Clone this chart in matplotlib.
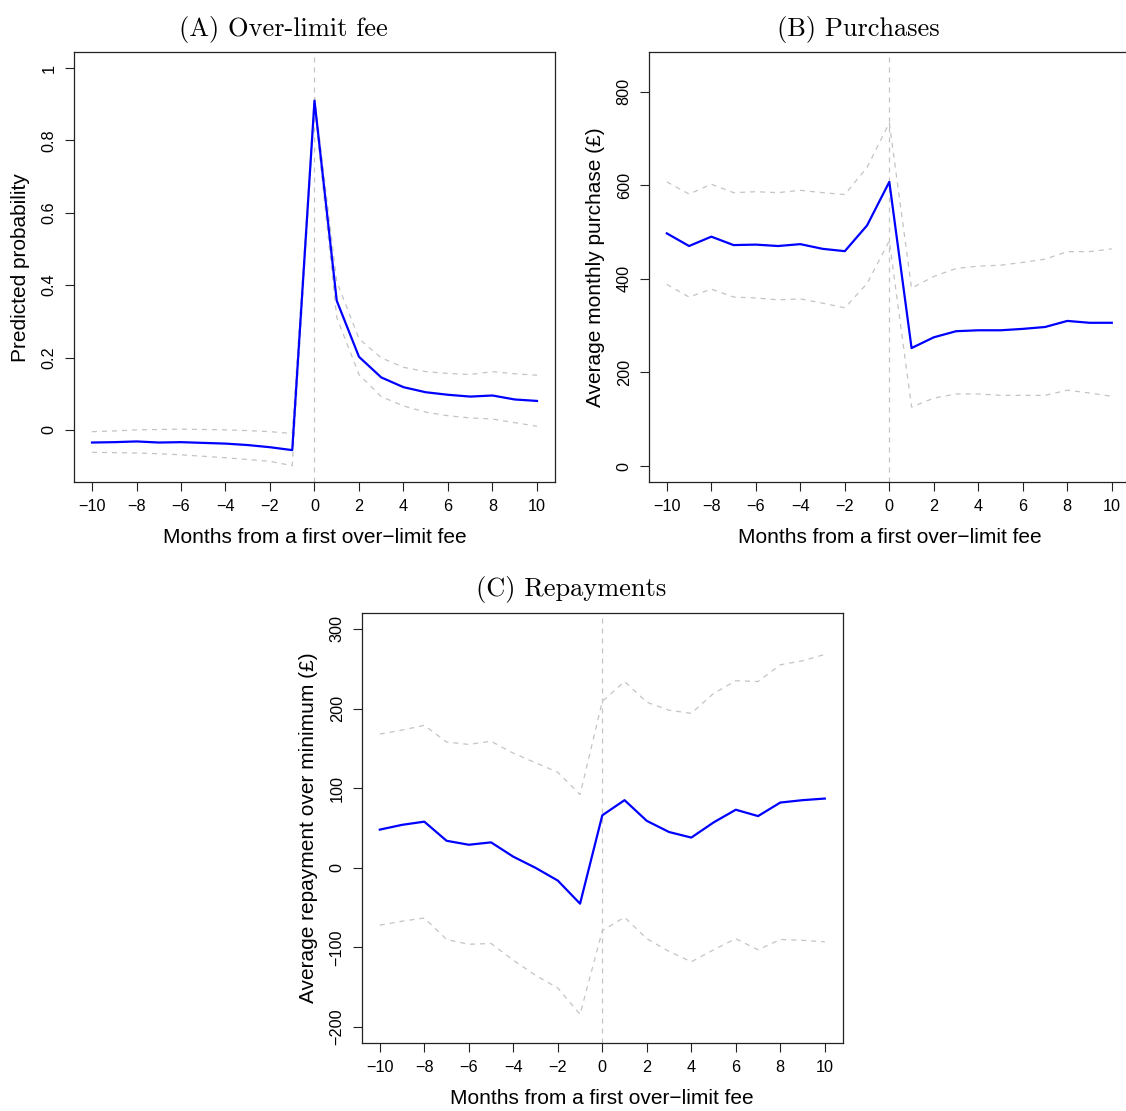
import matplotlib
matplotlib.use("Agg")
import matplotlib.pyplot as plt

plt.rcParams['font.family'] = ['Liberation Sans', 'DejaVu Sans']

months = list(range(-10, 11))

# (A) over-limit fee: predicted probability with bounds
fee_est = [-0.035, -0.034, -0.032, -0.035, -0.034, -0.036, -0.038, -0.042, -0.048, -0.056,
           0.910, 0.357, 0.202, 0.145, 0.118, 0.104, 0.097, 0.092, 0.095, 0.084, 0.080]
fee_hi = [-0.005, -0.003, 0.000, 0.001, 0.002, 0.001, 0.000, -0.002, -0.005, -0.010,
          0.923, 0.410, 0.252, 0.199, 0.173, 0.161, 0.156, 0.153, 0.161, 0.155, 0.151]
fee_lo = [-0.062, -0.063, -0.064, -0.066, -0.069, -0.073, -0.077, -0.082, -0.087, -0.099,
          0.893, 0.311, 0.153, 0.092, 0.066, 0.049, 0.039, 0.033, 0.030, 0.020, 0.010]

# (B) purchases
pur_est = [497, 470, 490, 472, 473, 470, 474, 464, 459, 514,
           607, 252, 275, 288, 290, 290, 293, 297, 310, 306, 306]
pur_hi = [607, 581, 602, 584, 586, 584, 589, 584, 580, 638,
          733, 380, 405, 422, 427, 429, 435, 442, 458, 458, 464]
pur_lo = [388, 361, 378, 361, 359, 355, 357, 348, 338, 390,
          481, 126, 145, 154, 154, 151, 151, 151, 162, 156, 149]

# (C) repayments
rep_est = [48, 54, 58, 34, 29, 32, 14, 0, -16, -45,
           66, 85, 59, 45, 38, 57, 73, 65, 82, 85, 87]
rep_hi = [168, 173, 179, 158, 155, 159, 144, 132, 120, 92,
          209, 234, 208, 198, 194, 219, 235, 234, 255, 260, 268]
rep_lo = [-72, -67, -63, -90, -96, -95, -116, -135, -151, -184,
          -79, -62, -89, -105, -118, -103, -89, -103, -90, -91, -93]

xticks = [-10, -8, -6, -4, -2, 0, 2, 4, 6, 8, 10]
xlab = "Months from a first over\u2212limit fee"

fig = plt.figure(figsize=(11.26, 11.11), dpi=100)


def fmt(v):
    return str(v).replace('-', '\u2212')


def r_panel(rect, est, hi, lo, ylim, yticks, ylabel, title):
    ax = fig.add_axes(rect)
    dash = (0, (4, 4))
    ax.plot(months, hi, color='#C4C4C4', lw=0.9, linestyle=dash)
    ax.plot(months, lo, color='#C4C4C4', lw=0.9, linestyle=dash)
    ax.axvline(0, color='#C4C4C4', lw=0.9, linestyle=dash)
    ax.plot(months, est, color='#0000FF', lw=1.6)
    span = ylim[1] - ylim[0]
    ax.set_ylim(ylim[0] - 0.04 * span, ylim[1] + 0.04 * span)
    ax.set_xlim(-10.8, 10.8)
    ax.set_xticks(xticks)
    ax.set_xticklabels([fmt(t) for t in xticks])
    ax.set_yticks(yticks)
    ax.set_yticklabels([fmt(t) for t in yticks], rotation=90, va='center')
    ax.tick_params(length=6.5, width=0.8, labelsize=11.7, pad=6, color='#222222')
    for s in ax.spines.values():
        s.set_linewidth(0.9)
        s.set_color('#222222')
    ax.set_xlabel(xlab, fontsize=15)
    ax.xaxis.set_label_coords(0.5, -0.130)
    ax.xaxis.label.set_va('center')
    ax.set_ylabel(ylabel, fontsize=15)
    ax.yaxis.set_label_coords(-0.112, 0.5)
    ax.yaxis.label.set_va('center')
    ax.set_title(title, family='cmr10', fontsize=19, pad=12, x=0.436)
    return ax


r_panel([0.0659, 0.5662, 0.4268, 0.3868], fee_est, fee_hi, fee_lo,
        (-0.1, 1.0), [0, 0.2, 0.4, 0.6, 0.8, 1], "Predicted probability",
        "(A) Over-limit fee")
r_panel([0.5764, 0.5662, 0.4268, 0.3868], pur_est, pur_hi, pur_lo,
        (0, 850), [0, 200, 400, 600, 800], "Average monthly purchase (\u00a3)",
        "(B) Purchases")
r_panel([0.3215, 0.0612, 0.4268, 0.3870], rep_est, rep_hi, rep_lo,
        (-200, 300), [-200, -100, 0, 100, 200, 300],
        "Average repayment over minimum (\u00a3)", "(C) Repayments")

fig.savefig("out.png", dpi=100)
